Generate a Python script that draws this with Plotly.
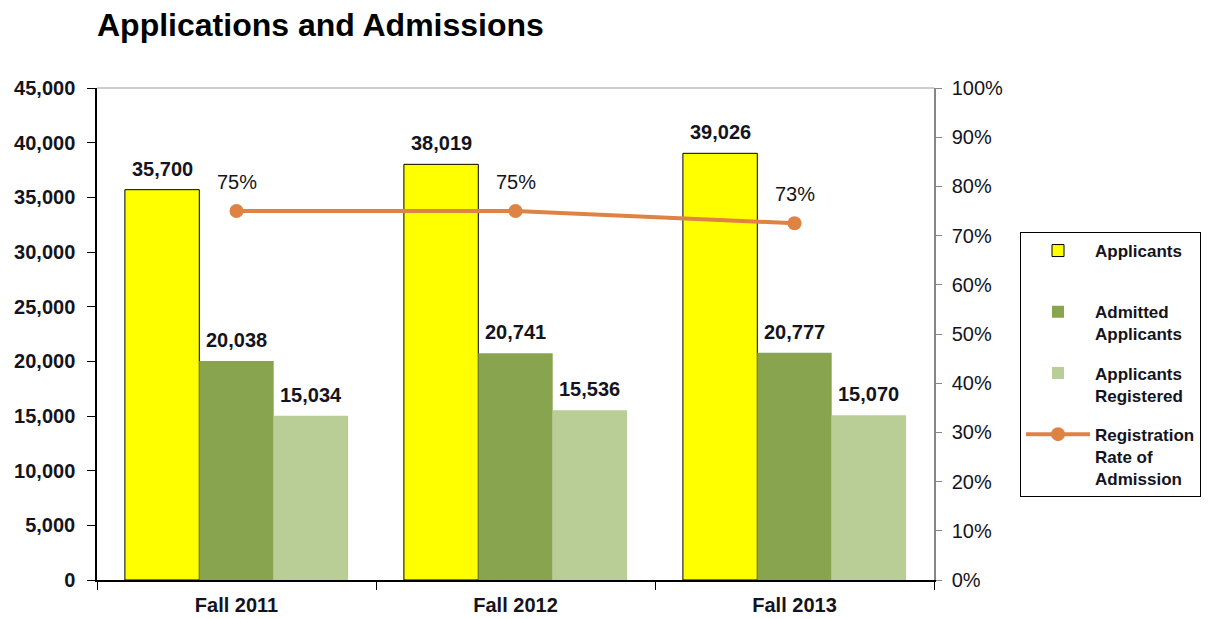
import plotly.graph_objects as go

categories = ["Fall 2011", "Fall 2012", "Fall 2013"]
applicants = [35700, 38019, 39026]
admitted = [20038, 20741, 20777]
registered = [15034, 15536, 15070]
reg_rate = [0.75, 0.75, 0.725]
rate_labels = ["75%", "75%", "73%"]

series_names = ["Applicants<br> ", "Admitted<br>Applicants", "Applicants<br>Registered"]
series_values = [applicants, admitted, registered]
series_colors = ["#FFFF00", "#88A44E", "#B9CE96"]
series_lines = [1, 0, 0]

FONT = "Arial, Liberation Sans, sans-serif"
TXT = "#141420"
BARGAP = 0.2

fig = go.Figure()
for k, (nm, vals, col, lw) in enumerate(zip(series_names, series_values, series_colors, series_lines)):
    fig.add_trace(go.Bar(
        x=categories, y=vals, name=nm,
        marker=dict(color=col, line=dict(color="#000000", width=lw)),
        legendgroup=f"g{k}",
    ))

fig.add_trace(go.Scatter(
    x=categories, y=reg_rate, yaxis="y2", mode="lines+markers",
    name="Registration<br>Rate of<br>Admission",
    line=dict(color="#DE8344", width=4),
    marker=dict(color="#DE8344", size=14),
    legendgroup="g3",
))

annotations = []
bw = (1 - BARGAP) / 3
for j, vals in enumerate(series_values):
    for i, v in enumerate(vals):
        annotations.append(dict(
            x=i + (j - 1) * bw, y=v, xref="x", yref="y",
            text=f"{v:,}", showarrow=False, yanchor="middle", yshift=21,
            font=dict(family=FONT, size=20, color=TXT, weight="bold"),
        ))
for i, (r, lab) in enumerate(zip(reg_rate, rate_labels)):
    annotations.append(dict(
        x=i, y=r, xref="x", yref="y2", text=lab, showarrow=False,
        yanchor="middle", yshift=29,
        font=dict(family=FONT, size=20, color=TXT),
    ))

fig.update_layout(
    width=1215, height=619,
    margin=dict(l=97, r=281, t=88, b=39),
    paper_bgcolor="white", plot_bgcolor="white",
    barmode="group", bargap=BARGAP, bargroupgap=0,
    title=dict(text="Applications and Admissions", x=97 / 1215, xanchor="left",
               xref="container", y=1 - 25 / 619, yanchor="middle", yref="container",
               font=dict(family=FONT, size=32, color="#000000", weight="bold")),
    xaxis=dict(type="category", showline=True, linecolor="#000000", linewidth=1.5,
               ticks="outside", tickson="boundaries", ticklen=8, tickcolor="#000000",
               tickfont=dict(family=FONT, size=20, color=TXT, weight="bold"),
               ticklabelstandoff=6, automargin=False, showgrid=False),
    yaxis=dict(range=[0, 45000], dtick=5000, tickformat=",", showline=True,
               linecolor="#000000", linewidth=1.5, ticks="outside", ticklen=8,
               tickcolor="#000000", showgrid=False, zeroline=False,
               ticklabelstandoff=8, automargin=False,
               tickfont=dict(family=FONT, size=20, color=TXT, weight="bold")),
    yaxis2=dict(range=[0, 1], dtick=0.1, tickformat=".0%", overlaying="y", side="right",
                showline=True, linecolor="#868686", linewidth=1.5, ticks="outside",
                ticklen=6, tickcolor="#868686", showgrid=False, zeroline=False,
                ticklabelstandoff=6, automargin=False,
                tickfont=dict(family=FONT, size=20, color=TXT)),
    legend=dict(x=(1020 - 97) / 837, xanchor="left", y=1 - (232 - 88) / 492, yanchor="top",
                bordercolor="#000000", borderwidth=1, bgcolor="white",
                font=dict(family=FONT, size=17, color=TXT, weight="bold"),
                valign="top", tracegroupgap=14, itemwidth=64, traceorder="grouped"),
    annotations=annotations,
    shapes=[dict(type="line", xref="paper", yref="paper", x0=0, x1=1, y0=1, y1=1,
                 line=dict(color="#9A9A9A", width=1))],
    showlegend=True,
)

fig.write_html("out.html", post_script="document.body.style.margin='0';",
               config={"displayModeBar": False})
